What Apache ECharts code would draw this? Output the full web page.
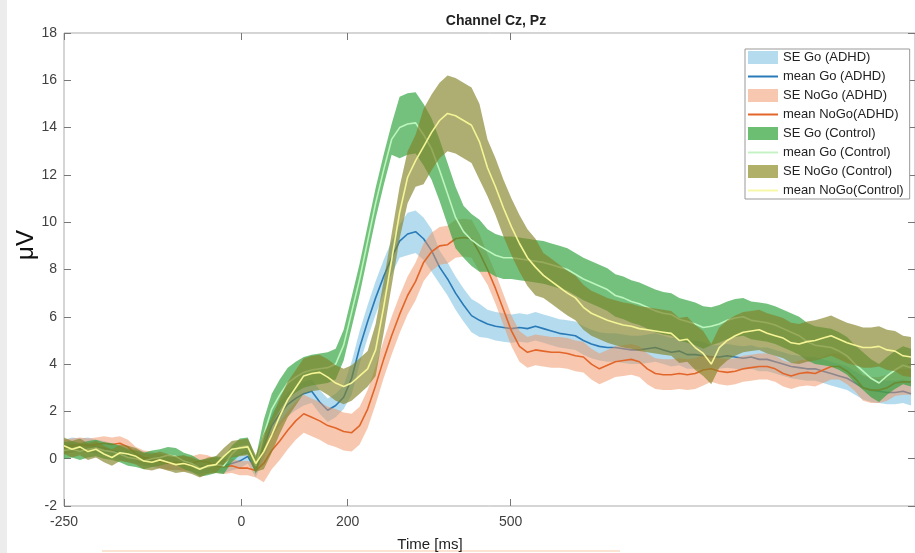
<!DOCTYPE html>
<html>
<head>
<meta charset="utf-8">
<title>Channel Cz, Pz</title>
<script src="https://cdn.jsdelivr.net/npm/echarts@6.0.0/dist/echarts.min.js"></script>
<style>
  html, body { margin: 0; padding: 0; background: #fff; }
  #chart { width: 915px; height: 553px; }
</style>
</head>
<body>
<div id="chart"></div>
<script>
// x is the sample index of the figure; the time ticks sit at these samples
var tickPos = [0, 22.2, 35.5, 55.9];
var tickLabels = ['-250', '0', '200', '500'];
var yTicks = [-2, 0, 2, 4, 6, 8, 10, 12, 14, 16, 18];

var meanGoAdhd = [
  0.5, 0.6, 0.55, 0.6, 0.5, 0.45, 0.35, 0.25, 0.15, 0.1,
  0.0, -0.05, -0.1, -0.15, -0.2, -0.15, -0.3, -0.35, -0.3, -0.25,
  -0.3, -0.2, -0.1, 0.1, -0.5, 0.5, 1.4, 1.9, 2.3, 2.55,
  2.75, 2.85, 2.4, 2.05, 2.25, 2.6, 3.4, 4.7, 5.8, 6.8,
  7.7, 8.5, 9.2, 9.5, 9.6, 9.3, 8.8, 8.1, 7.6, 7.0,
  6.5, 6.05, 5.85, 5.7, 5.6, 5.55, 5.5, 5.55, 5.5, 5.6,
  5.5, 5.4, 5.3, 5.25, 5.2, 5.0, 4.85, 4.75, 4.7, 4.7,
  4.65, 4.6, 4.6, 4.65, 4.7, 4.6, 4.5, 4.55, 4.4, 4.4,
  4.35, 4.3, 4.3, 4.35, 4.3, 4.25, 4.3, 4.2, 4.2, 4.1,
  4.0, 3.9, 3.85, 3.8, 3.8, 3.7, 3.6, 3.5, 3.4, 3.2,
  3.0, 2.9, 2.85, 2.8, 2.8, 2.85, 2.75
];
var seGoAdhd = [
  0.3, 0.3, 0.3, 0.3, 0.3, 0.3, 0.3, 0.3, 0.3, 0.3,
  0.3, 0.3, 0.3, 0.3, 0.3, 0.3, 0.3, 0.3, 0.3, 0.3,
  0.3, 0.3, 0.3, 0.3, 0.3, 0.5, 0.5, 0.5, 0.5, 0.5,
  0.5, 0.5, 0.5, 0.5, 0.5, 0.5, 0.7, 0.7, 0.7, 0.7,
  0.7, 0.7, 0.7, 0.9, 0.9, 0.9, 0.9, 0.7, 0.7, 0.7,
  0.7, 0.7, 0.7, 0.6, 0.6, 0.6, 0.6, 0.6, 0.6, 0.6,
  0.6, 0.6, 0.6, 0.6, 0.6, 0.6, 0.6, 0.6, 0.6, 0.6,
  0.6, 0.6, 0.6, 0.6, 0.6, 0.6, 0.6, 0.6, 0.6, 0.6,
  0.6, 0.5, 0.5, 0.5, 0.5, 0.5, 0.5, 0.5, 0.5, 0.5,
  0.5, 0.5, 0.5, 0.5, 0.5, 0.5, 0.5, 0.5, 0.5, 0.5,
  0.5, 0.5, 0.5, 0.5, 0.5, 0.5, 0.5
];

var meanNoGoAdhd = [
  0.5, 0.55, 0.6, 0.55, 0.6, 0.65, 0.6, 0.65, 0.5, 0.2,
  0.05, 0.0, -0.1, -0.2, -0.15, -0.25, -0.2, -0.1, -0.15, -0.3,
  -0.35, -0.3, -0.4, -0.4, -0.5, -0.2, 0.35, 0.75, 1.2, 1.6,
  1.9, 1.75, 1.6, 1.4, 1.3, 1.15, 1.1, 1.4, 2.1, 3.1,
  4.2, 5.2, 6.1, 6.9, 7.5, 8.3, 8.75, 9.0, 9.05, 9.3,
  9.35, 9.3, 8.7, 8.0, 7.2, 6.3, 5.4, 4.75, 4.5, 4.6,
  4.55, 4.5, 4.5, 4.45, 4.35, 4.3, 4.0, 3.8, 3.95, 4.1,
  4.15, 4.2, 4.1, 3.8, 3.6, 3.55, 3.55, 3.6, 3.55, 3.6,
  3.75, 3.8, 3.7, 3.65, 3.7, 3.8, 3.85, 3.9, 3.9, 3.8,
  3.6, 3.5, 3.6, 3.65, 3.6, 3.75, 3.9, 3.9, 3.7, 3.4,
  3.0, 2.9, 2.9, 3.0, 3.2, 3.25, 3.25
];
var seNoGoAdhd = [
  0.3, 0.3, 0.3, 0.3, 0.3, 0.3, 0.3, 0.3, 0.3, 0.3,
  0.3, 0.3, 0.3, 0.3, 0.3, 0.3, 0.3, 0.3, 0.3, 0.3,
  0.3, 0.3, 0.3, 0.3, 0.3, 0.8, 0.8, 0.8, 0.8, 0.8,
  0.8, 0.8, 0.8, 0.8, 0.8, 0.8, 0.8, 0.8, 0.8, 0.8,
  0.8, 0.8, 0.8, 0.8, 0.8, 0.8, 0.8, 0.8, 0.8, 0.8,
  0.8, 0.8, 0.8, 0.65, 0.65, 0.65, 0.65, 0.65, 0.65, 0.65,
  0.65, 0.65, 0.65, 0.65, 0.65, 0.65, 0.65, 0.65, 0.65, 0.65,
  0.65, 0.65, 0.65, 0.65, 0.65, 0.65, 0.65, 0.65, 0.65, 0.65,
  0.65, 0.55, 0.55, 0.55, 0.55, 0.55, 0.55, 0.55, 0.55, 0.55,
  0.55, 0.55, 0.55, 0.55, 0.55, 0.55, 0.55, 0.55, 0.55, 0.55,
  0.55, 0.55, 0.55, 0.55, 0.55, 0.55, 0.55
];

var meanGoCtrl = [
  0.35, 0.4, 0.3, 0.4, 0.45, 0.35, 0.3, 0.2, 0.05, 0.0,
  -0.1, 0.0, 0.05, 0.15, 0.1, -0.1, -0.2, -0.4, -0.35, -0.25,
  -0.3, 0.2, 0.5, 0.55, -0.3, 1.0, 2.1, 2.7, 3.2, 3.45,
  3.65, 3.75, 3.8, 3.85, 4.0, 4.8, 6.2, 7.6, 9.2, 10.8,
  12.2, 13.5, 14.0, 14.15, 14.2, 13.7, 13.1, 12.2, 11.2, 10.2,
  9.6, 9.25, 9.0, 8.8, 8.6, 8.5, 8.5, 8.45, 8.4, 8.35,
  8.3, 8.2, 8.1, 8.0, 7.8, 7.6, 7.45, 7.3, 7.15, 6.9,
  6.8, 6.65, 6.55, 6.4, 6.25, 6.15, 6.1, 5.9, 5.8, 5.7,
  5.55, 5.6, 5.7, 5.85, 5.95, 6.0, 5.85, 5.8, 5.75, 5.65,
  5.5, 5.35, 5.2, 4.95, 4.8, 4.75, 4.7, 4.55, 4.35, 4.0,
  3.7, 3.4, 3.2, 3.5, 3.75, 3.95, 3.85
];
var seGoCtrl = [
  0.35, 0.35, 0.35, 0.35, 0.35, 0.35, 0.35, 0.35, 0.35, 0.35,
  0.35, 0.35, 0.35, 0.35, 0.35, 0.35, 0.35, 0.35, 0.35, 0.35,
  0.35, 0.35, 0.35, 0.35, 0.35, 0.65, 0.65, 0.65, 0.65, 0.65,
  0.65, 0.65, 0.65, 0.65, 0.65, 0.65, 0.65, 0.65, 0.65, 0.65,
  0.65, 0.65, 1.3, 1.3, 1.3, 1.3, 1.3, 1.3, 1.3, 1.3,
  1.1, 1.1, 1.1, 0.9, 0.9, 0.9, 0.9, 0.9, 0.9, 0.9,
  0.9, 0.9, 0.9, 0.9, 0.9, 0.9, 0.9, 0.9, 0.9, 0.9,
  0.9, 0.9, 0.9, 0.9, 0.9, 0.9, 0.9, 0.9, 0.9, 0.9,
  0.9, 0.8, 0.8, 0.8, 0.8, 0.8, 0.8, 0.8, 0.8, 0.8,
  0.8, 0.8, 0.8, 0.8, 0.8, 0.8, 0.8, 0.8, 0.8, 0.8,
  0.8, 0.8, 0.8, 0.8, 0.8, 0.8, 0.8
];

var meanNoGoCtrl = [
  0.55, 0.4, 0.5, 0.3, 0.4, 0.2, 0.05, 0.25, 0.2, 0.1,
  -0.1, -0.15, -0.05, -0.15, -0.25, -0.2, -0.3, -0.45, -0.3, -0.25,
  0.1, 0.4, 0.45, 0.5, -0.2, 0.3, 1.0, 1.8, 2.5, 3.0,
  3.5, 3.6, 3.65, 3.45, 3.2, 3.05, 3.2, 3.5, 3.8, 4.6,
  6.4, 8.4, 10.4, 11.9, 12.6, 13.2, 13.8, 14.3, 14.6, 14.5,
  14.3, 14.1, 13.4, 12.3, 11.5, 10.6, 9.8, 9.1, 8.5, 8.1,
  7.75, 7.5, 7.25, 7.0, 6.8, 6.4, 6.15, 6.0, 5.85, 5.75,
  5.65, 5.6, 5.5, 5.45, 5.4, 5.35, 5.3, 5.0, 5.05, 4.7,
  4.45, 4.0, 4.7, 5.0, 5.2, 5.35, 5.4, 5.45, 5.3, 5.2,
  5.1, 4.9, 4.85, 4.95, 5.0, 5.1, 5.2, 5.05, 4.9, 4.8,
  4.7, 4.7, 4.75, 4.6, 4.55, 4.35, 4.3
];
var seNoGoCtrl = [
  0.35, 0.35, 0.35, 0.35, 0.35, 0.35, 0.35, 0.35, 0.35, 0.35,
  0.35, 0.35, 0.35, 0.35, 0.35, 0.35, 0.35, 0.35, 0.35, 0.35,
  0.35, 0.35, 0.35, 0.35, 0.35, 0.75, 0.75, 0.75, 0.75, 0.75,
  0.75, 0.75, 0.75, 0.75, 0.75, 0.75, 0.75, 0.75, 0.75, 1.1,
  1.1, 1.1, 1.1, 1.1, 1.1, 1.6, 1.6, 1.6, 1.6, 1.6,
  1.6, 1.6, 1.6, 1.2, 1.2, 1.2, 1.2, 1.2, 1.2, 1.2,
  0.95, 0.95, 0.95, 0.95, 0.95, 0.95, 0.95, 0.95, 0.95, 0.95,
  0.95, 0.95, 0.95, 0.95, 0.95, 0.95, 0.95, 0.95, 0.95, 0.95,
  0.95, 0.85, 0.85, 0.85, 0.85, 0.85, 0.85, 0.85, 0.85, 0.85,
  0.85, 0.85, 0.85, 0.85, 0.85, 0.85, 0.85, 0.85, 0.85, 0.85,
  0.85, 0.85, 0.85, 0.85, 0.85, 0.85, 0.85
];

var FONT = 'Liberation Sans, Arial, sans-serif';

// SE band: one polygon through mean+se and back along mean-se
function bandSeries(name, mean, se, fill, z) {
  var rows = mean.map(function (v, i) { return [i, v - se[i], v + se[i]]; });
  return {
    type: 'custom',
    name: name,
    data: rows,
    encode: { x: 0, y: [1, 2] },
    clip: true,
    silent: true,
    z: z,
    itemStyle: { color: fill },
    renderItem: function (params, api) {
      if (params.dataIndexInside !== 0) return;
      var top = [], bottom = [];
      for (var k = 0; k < params.dataInsideLength; k++) {
        top.push(api.coord([api.value(0, k), api.value(2, k)]));
        bottom.push(api.coord([api.value(0, k), api.value(1, k)]));
      }
      return {
        type: 'polygon',
        shape: { points: top.concat(bottom.reverse()) },
        style: { fill: fill }
      };
    }
  };
}

function meanSeries(name, mean, color, z) {
  return {
    type: 'line',
    name: name,
    data: mean.map(function (v, i) { return [i, v]; }),
    symbol: 'none',
    silent: true,
    z: z,
    itemStyle: { color: color },
    lineStyle: { color: color, width: 1.6 }
  };
}

var lineIcon = 'path://M0,0H30V2H0Z';
var tickStyle = { color: '#777' };

var myChart = echarts.init(document.getElementById('chart'));
var option = {
  animation: false,
  backgroundColor: '#fff',
  title: {
    text: 'Channel Cz, Pz',
    left: 491,
    textAlign: 'center',
    top: 9,
    textStyle: { fontFamily: FONT, fontSize: 14, fontWeight: 'bold', color: '#222' }
  },
  legend: {
    orient: 'vertical',
    left: 745,
    top: 49,
    padding: [2, 6, 2, 3],
    itemWidth: 30,
    itemHeight: 13,
    itemGap: 6,
    backgroundColor: '#fff',
    borderColor: '#999',
    borderWidth: 1,
    borderRadius: 0,
    selectedMode: false,
    itemStyle: { borderWidth: 0 },
    textStyle: { fontFamily: FONT, fontSize: 13, color: '#222', lineHeight: 13 },
    data: [
      { name: 'SE Go (ADHD)', icon: 'rect', itemStyle: { color: '#b4dcee' } },
      { name: 'mean Go (ADHD)', icon: lineIcon, itemStyle: { color: '#2a7ab8' } },
      { name: 'SE NoGo (ADHD)', icon: 'rect', itemStyle: { color: '#f7c8af' } },
      { name: 'mean NoGo(ADHD)', icon: lineIcon, itemStyle: { color: '#e2652a' } },
      { name: 'SE Go (Control)', icon: 'rect', itemStyle: { color: '#6cbe73' } },
      { name: 'mean Go (Control)', icon: lineIcon, itemStyle: { color: '#c4f2c4' } },
      { name: 'SE NoGo (Control)', icon: 'rect', itemStyle: { color: '#b0b068' } },
      { name: 'mean NoGo(Control)', icon: lineIcon, itemStyle: { color: '#f7f7a8' } }
    ]
  },
  grid: {
    left: 64, top: 33, right: -1, bottom: 47,
    show: true, borderColor: '#ababab', borderWidth: 1, backgroundColor: 'transparent'
  },
  xAxis: [{
    type: 'value',
    position: 'bottom',
    min: 0, max: 106.5,
    axisLine: { show: false, onZero: false },
    splitLine: { show: false },
    axisTick: { inside: true, length: 7, customValues: tickPos, lineStyle: tickStyle },
    axisLabel: {
      customValues: tickPos,
      margin: 9,
      fontFamily: FONT, fontSize: 14, color: '#404040',
      formatter: function (v) {
        var k = tickPos.indexOf(v);
        return k < 0 ? '' : tickLabels[k];
      }
    }
  }, {
    type: 'value',
    position: 'top',
    min: 0, max: 106.5,
    axisLine: { show: false, onZero: false },
    splitLine: { show: false },
    axisTick: { inside: true, length: 7, customValues: tickPos, lineStyle: tickStyle },
    axisLabel: { show: false }
  }],
  yAxis: [{
    type: 'value',
    position: 'left',
    min: -2, max: 18, interval: 2,
    axisLine: { show: false, onZero: false },
    splitLine: { show: false },
    axisTick: { inside: true, length: 7, lineStyle: tickStyle },
    axisLabel: {
      margin: 7, fontFamily: FONT, fontSize: 14, color: '#404040',
      formatter: function (v) { return yTicks.indexOf(v) < 0 ? '' : String(v); }
    }
  }, {
    type: 'value',
    position: 'right',
    min: -2, max: 18, interval: 2,
    axisLine: { show: false, onZero: false },
    splitLine: { show: false },
    axisTick: { inside: true, length: 7, lineStyle: tickStyle },
    axisLabel: { show: false }
  }],
  graphic: [
    { type: 'rect', shape: { x: 0, y: 0, width: 7, height: 553 }, style: { fill: '#ececec' }, silent: true },
    { type: 'rect', shape: { x: 102, y: 550, width: 518, height: 2 }, style: { fill: '#fbe4d4' }, silent: true },
    {
      type: 'text', x: 26, y: 245, rotation: Math.PI / 2, silent: true,
      style: { text: 'μV', font: '24px ' + FONT, fill: '#111', align: 'center', verticalAlign: 'middle', textAlign: 'center', textVerticalAlign: 'middle' }
    },
    {
      type: 'text', x: 430, y: 545, silent: true,
      style: { text: 'Time [ms]', font: '15px ' + FONT, fill: '#222', align: 'center', verticalAlign: 'middle', textAlign: 'center', textVerticalAlign: 'middle' }
    }
  ],
  series: [
    bandSeries('SE Go (ADHD)', meanGoAdhd, seGoAdhd, 'rgba(105,185,221,0.5)', 10),
    meanSeries('mean Go (ADHD)', meanGoAdhd, '#2a7ab8', 11),
    bandSeries('SE NoGo (ADHD)', meanNoGoAdhd, seNoGoAdhd, 'rgba(239,145,95,0.5)', 12),
    meanSeries('mean NoGo(ADHD)', meanNoGoAdhd, '#e2652a', 13),
    bandSeries('SE Go (Control)', meanGoCtrl, seGoCtrl, 'rgba(40,160,55,0.65)', 14),
    meanSeries('mean Go (Control)', meanGoCtrl, '#bdf5bd', 15),
    bandSeries('SE NoGo (Control)', meanNoGoCtrl, seNoGoCtrl, 'rgba(130,130,40,0.65)', 16),
    meanSeries('mean NoGo(Control)', meanNoGoCtrl, '#f5f596', 17)
  ]
};
myChart.setOption(option);
</script>
</body>
</html>
